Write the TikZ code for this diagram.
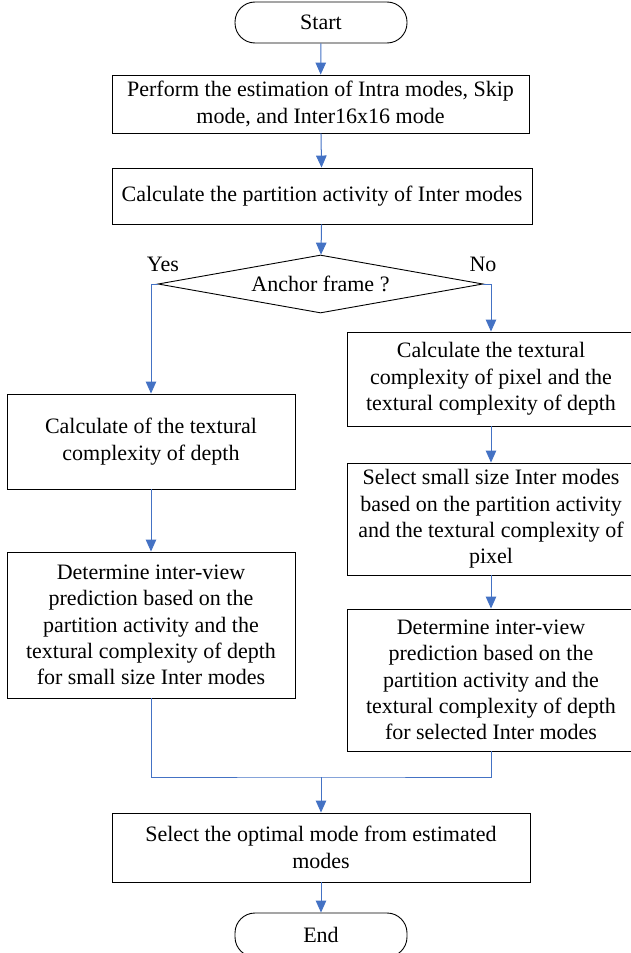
\documentclass[tikz,border=0pt]{standalone}
\usepackage{fontspec}
\setmainfont{Liberation Serif}
\usepackage{tikz}
\usetikzlibrary{arrows.meta,shapes.geometric}
\definecolor{flowblue}{RGB}{68,114,196}
\tikzset{
  procbox/.style={rectangle,draw=black,line width=0.9pt,inner sep=0pt,align=center,
    font=\fontsize{22}{26.3}\selectfont,fill=white},
  termbox/.style={procbox,rounded corners=20pt,minimum width=172pt},
  decision/.style={diamond,draw=black,line width=0.9pt,inner sep=0pt,aspect=5.6,
    minimum width=325pt,minimum height=58pt,font=\fontsize{22}{26.3}\selectfont},
  flow/.style={-{Triangle[length=12pt,width=10.5pt]},line width=1pt,flowblue},
  plainflow/.style={line width=1pt,flowblue},
  branchlabel/.style={font=\fontsize{22}{26.3}\selectfont,inner sep=0pt}
}
\begin{document}
\begin{tikzpicture}[x=1pt,y=-1pt]
  \useasboundingbox (0,0) rectangle (631,953);

  \node[termbox,minimum height=41pt] (start) at (321,22.5) {Start};
  \node[procbox,minimum width=417pt,minimum height=58pt] (estim) at (320.5,104)
    {Perform the estimation of Intra modes, Skip\\mode, and Inter16x16 mode};
  \node[procbox,minimum width=420pt,minimum height=56pt] (activity) at (322,196)
    {Calculate the partition activity of Inter modes};
  \node[decision] (anchor) at (320.5,284) {Anchor frame ?};
  \node[branchlabel] (yes) at (163,264) {Yes};
  \node[branchlabel] (no) at (483,264) {No};

  \node[procbox,minimum width=288pt,minimum height=95pt] (depthL) at (151,441.5)
    {Calculate of the textural\\complexity of depth};
  \node[procbox,minimum width=288pt,minimum height=146pt] (viewL) at (151,625)
    {Determine inter-view\\prediction based on the\\partition activity and the\\textural complexity of depth\\for small size Inter modes};

  \node[procbox,minimum width=288pt,minimum height=94pt] (textR) at (491,379)
    {Calculate the textural\\complexity of pixel and the\\textural complexity of depth};
  \node[procbox,minimum width=288pt,minimum height=112pt] (selectR) at (491,519)
    {Select small size Inter modes\\based on the partition activity\\and the textural complexity of\\pixel};
  \node[procbox,minimum width=288pt,minimum height=142pt] (viewR) at (491,680)
    {Determine inter-view\\prediction based on the\\partition activity and the\\textural complexity of depth\\for selected Inter modes};

  \coordinate (join) at (321,777);
  \node[procbox,minimum width=418pt,minimum height=69pt] (optimal) at (321,847.5)
    {Select the optimal mode from estimated\\modes};
  \node[termbox,minimum height=44pt] (end) at (321,935) {End};

  \draw[flow] (start) -- (estim);
  \draw[flow] (estim) -- (activity);
  \draw[flow] (activity) -- (anchor);
  \draw[flow] (anchor.west) -| (depthL);
  \draw[flow] (anchor.east) -| (textR);
  \draw[flow] (depthL) -- (viewL);
  \draw[flow] (textR) -- (selectR);
  \draw[flow] (selectR) -- (viewR);
  \draw[plainflow] (viewL.south) |- (join) -| (viewR.south);
  \draw[flow] (join) -- (optimal);
  \draw[flow] (optimal) -- (end);
\end{tikzpicture}
\end{document}
